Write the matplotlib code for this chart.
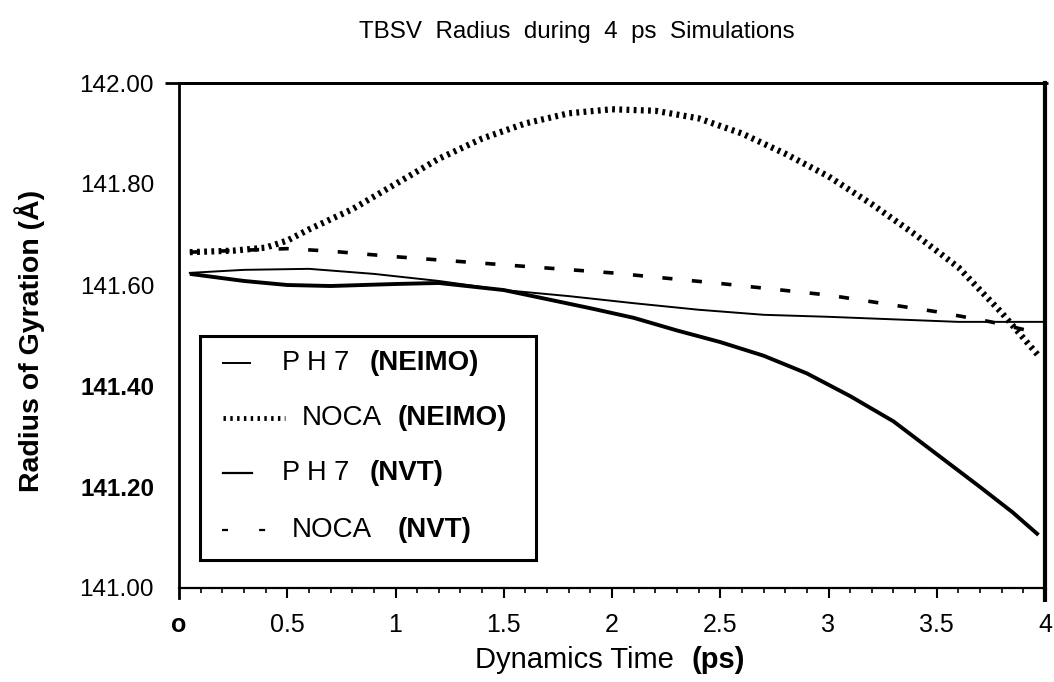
import matplotlib
matplotlib.use("Agg")
import matplotlib.pyplot as plt
from matplotlib.patches import Rectangle
from matplotlib.lines import Line2D
from matplotlib.ticker import MultipleLocator

plt.rcParams['font.family'] = ['Liberation Sans', 'DejaVu Sans']

# data (time in ps, radius in Angstrom)
t_noca_neimo = [0.05, 0.25, 0.4, 0.5, 0.6, 0.8, 1.0, 1.2, 1.4, 1.6, 1.8, 2.0,
                2.2, 2.4, 2.6, 2.8, 3.0, 3.2, 3.4, 3.6, 3.8, 3.97]
r_noca_neimo = [141.665, 141.668, 141.674, 141.688, 141.71, 141.75, 141.80,
                141.85, 141.89, 141.92, 141.94, 141.948, 141.945, 141.93,
                141.90, 141.86, 141.815, 141.76, 141.70, 141.635, 141.545,
                141.46]

t_noca_nvt = [0.05, 0.5, 0.7, 1.0, 1.5, 2.0, 2.5, 3.0, 3.5, 3.75, 3.97]
r_noca_nvt = [141.665, 141.672, 141.667, 141.656, 141.64, 141.624, 141.603,
              141.58, 141.547, 141.527, 141.505]

t_ph7_neimo = [0.05, 0.3, 0.6, 0.9, 1.2, 1.5, 1.8, 2.1, 2.4, 2.7, 3.0,
               3.3, 3.6, 4.0]
r_ph7_neimo = [141.624, 141.63, 141.632, 141.622, 141.608, 141.59, 141.578,
               141.564, 141.551, 141.541, 141.537, 141.532, 141.527, 141.527]

t_ph7_nvt = [0.05, 0.3, 0.5, 0.7, 1.0, 1.2, 1.5, 1.7, 1.9, 2.1, 2.3, 2.5,
             2.7, 2.9, 3.1, 3.3, 3.5, 3.7, 3.85, 3.97]
r_ph7_nvt = [141.622, 141.608, 141.60, 141.598, 141.602, 141.604, 141.59,
             141.572, 141.554, 141.535, 141.51, 141.487, 141.46, 141.425,
             141.38, 141.33, 141.265, 141.20, 141.15, 141.105]

x_ticks = [0, 0.5, 1, 1.5, 2, 2.5, 3, 3.5, 4]
x_labels = ['o', '0.5', '1', '1.5', '2', '2.5', '3', '3.5', '4']
y_ticks = [141.0, 141.2, 141.4, 141.6, 141.8, 142.0]
y_labels = ['141.00', '141.20', '141.40', '141.60', '141.80', '142.00']
y_bold = ['141.20', '141.40']

fig = plt.figure(figsize=(10.54, 6.82), dpi=100)
ax = fig.add_axes([179 / 1054, 1 - 588 / 682, 866 / 1054, 505 / 682])

ax.plot(t_ph7_nvt, r_ph7_nvt, color='black', lw=2.8, solid_capstyle='butt')
ax.plot(t_ph7_neimo, r_ph7_neimo, color='black', lw=1.4)
ax.plot(t_noca_nvt, r_noca_nvt, color='black', lw=2.6,
        linestyle=(0, (2.8, 5.4)), dash_capstyle='butt')
ax.plot(t_noca_neimo, r_noca_neimo, color='black', lw=4.5,
        linestyle=(0, (0.45, 0.7)), dash_capstyle='butt')

ax.set_xlim(0, 4)
ax.set_ylim(141.0, 142.0)

# frame
for s in ['left', 'top']:
    ax.spines[s].set_linewidth(2.0)
ax.spines['right'].set_linewidth(3.0)
ax.spines['bottom'].set_linewidth(1.6)
ax.spines['left'].set_bounds(140.98, 142.0)
ax.plot([-0.016, 1.003], [1, 1], transform=ax.transAxes, color='black',
        lw=2.0, clip_on=False, solid_capstyle='butt')
ax.plot([1, 1], [0, -0.028], transform=ax.transAxes, color='black',
        lw=3.0, clip_on=False, solid_capstyle='butt')

ax.set_xticks(x_ticks)
ax.set_xticklabels(x_labels)
ax.xaxis.set_minor_locator(MultipleLocator(0.1))
ax.tick_params(axis='x', which='major', direction='out', length=7, width=1.5,
               pad=11, labelsize=18)
ax.tick_params(axis='x', which='minor', direction='out', length=3.5, width=1.2)
ax.get_xticklabels()[0].set_fontweight('bold')
xt = ax.xaxis.get_major_ticks()
xt[0].tick1line.set_visible(False)
xt[-1].tick1line.set_visible(False)

ax.set_yticks(y_ticks)
ax.set_yticklabels(y_labels)
ax.tick_params(axis='y', length=0, pad=18, labelsize=17.5)
for lab in ax.get_yticklabels():
    if lab.get_text() in y_bold:
        lab.set_fontweight('bold')

# title and axis labels
fig.text(577 / 1054, 1 - 32 / 682, 'TBSV  Radius  during  4  ps  Simulations',
         ha='center', va='center', fontsize=17.4)
fig.text(475 / 1054, 1 - 660 / 682, 'Dynamics Time', ha='left', va='center',
         fontsize=21)
fig.text(745 / 1054, 1 - 660 / 682, '(ps)', ha='right', va='center',
         fontsize=21, fontweight='bold')
fig.text(30 / 1054, 1 - 341 / 682, 'Radius of Gyration (\u00c5)', rotation=90,
         ha='center', va='center', fontsize=20.5, fontweight='bold')

# legend box drawn by hand to keep mixed bold text
def ax_x(px):
    return (px - 179) / 866

def ax_y(py):
    return (588 - py) / 505

tr = ax.transAxes
ax.add_patch(Rectangle((ax_x(200), ax_y(560)), ax_x(536) - ax_x(200),
                       ax_y(336) - ax_y(560), transform=tr, fill=True,
                       facecolor='white', edgecolor='black', lw=2.2, zorder=5))

rows = [
    (363, dict(lw=1.4, linestyle='-'), 223, 250, 'P H 7', 282, '(NEIMO)', 370),
    (418, dict(lw=3.5, linestyle=(0, (0.5, 0.9))), 223, 285, 'NOCA', 302,
     '(NEIMO)', 398),
    (473, dict(lw=1.6, linestyle='-'), 223, 252, 'P H 7', 282, '(NVT)', 370),
    (530, dict(lw=1.6, linestyle=(0, (2.7, 14))), 222, 266, 'NOCA', 292,
     '(NVT)', 398),
]
for py, style, x0, x1, name, nx, method, mx in rows:
    ax.add_line(Line2D([ax_x(x0), ax_x(x1)], [ax_y(py), ax_y(py)],
                       transform=tr, color='black', dash_capstyle='butt',
                       zorder=6, **style))
    ax.text(ax_x(nx), ax_y(py), name, transform=tr, ha='left', va='center',
            fontsize=20 if name == 'NOCA' else 19.5, zorder=6)
    ax.text(ax_x(mx), ax_y(py), method, transform=tr, ha='left', va='center',
            fontsize=20, fontweight='bold', zorder=6)

fig.savefig('out.png', dpi=100)
